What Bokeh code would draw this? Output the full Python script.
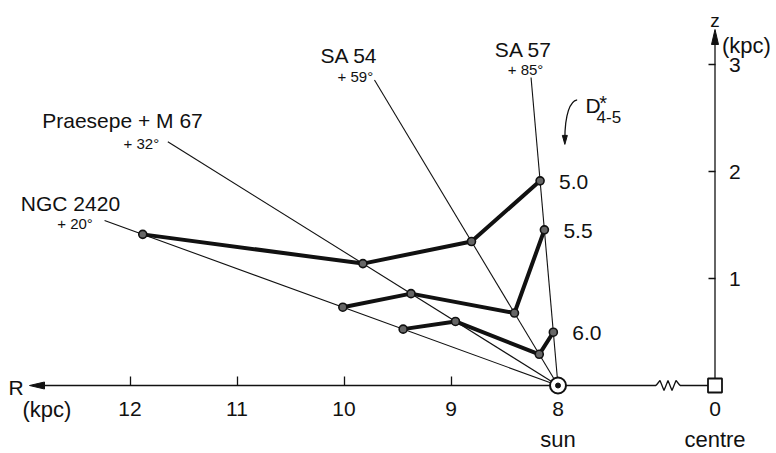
import numpy as np
from bokeh.plotting import figure
from bokeh.models import Range1d, LinearAxis, FixedTicker
from bokeh.core.properties import value
from bokeh.embed import file_html
from bokeh.resources import INLINE

# ---------------- data ----------------
fields = ["NGC 2420", "Praesepe + M 67", "SA 54", "SA 57"]
latitudes = [20, 32, 59, 85]                    # deg
lat_labels = ["+ 20°", "+ 32°", "+ 59°", "+ 85°"]
sightline_length = [4.51, 4.30, 3.33, 2.89]      # kpc, drawn extent of each sight-line

# distance (kpc) along each sight-line where D*4-5 reaches the level
levels = ["5.0", "5.5", "6.0"]
dist_50 = [4.13, 2.15, 1.57, 1.92]
dist_55 = [2.14, 1.62, 0.79, 1.46]
dist_60 = [1.54, 1.13, 0.34, 0.50]

R_ticks = [12, 11, 10, 9, 8]
z_ticks = [1, 2, 3]
R_SUN = 8.0

# label anchor positions (R, z) in kpc, left-aligned, baseline
field_label_pos = [(13.02, 1.70), (12.82, 2.48), (10.22, 3.08), (8.59, 3.14)]
lat_label_pos = [(12.68, 1.51), (12.06, 2.26), (10.06, 2.89), (8.47, 2.95)]

# ---------------- layout ----------------
PX = 107.0          # pixels per kpc (same in R and z)
W, H = 776, 453
X_SUN, Y_SUN = 557.5, 385.0
CENTRE_POS = R_SUN - 157.0 / PX     # display position of R = 0 after the axis break
INK = "#111111"
FONT = value("Liberation Sans")

def dx(pix):
    return pix / PX

p = figure(width=W, height=H,
           x_range=Range1d(R_SUN + X_SUN / PX, R_SUN - (W - X_SUN) / PX),
           y_range=Range1d(-(H - Y_SUN) / PX, Y_SUN / PX),
           output_backend="svg", toolbar_location=None, min_border=0,
           outline_line_color=None, x_axis_type=None, y_axis_type=None)
p.background_fill_color = "white"
p.border_fill_color = "white"

# sight-lines (towards the anticentre, i.e. larger R)
b = np.radians(latitudes)
L = np.array(sightline_length)
p.segment(x0=[R_SUN] * 4, y0=[0] * 4, x1=R_SUN + L * np.cos(b), y1=L * np.sin(b),
          line_color=INK, line_width=1.1)

# level curves
for d, lab in zip([dist_50, dist_55, dist_60], levels):
    d = np.array(d)
    R = R_SUN + d * np.cos(b)
    z = d * np.sin(b)
    p.line(R, z, line_color=INK, line_width=4)
    p.scatter(R, z, marker="circle", size=8, fill_color="#666666", line_color=INK, line_width=1.6)
    p.text(x=[R[-1]], y=[z[-1]], text=[lab], x_offset=19, y_offset=1,
           text_font=FONT, text_font_size="21px", text_color=INK,
           text_align="left", text_baseline="middle")

# field labels
p.text(x=[q[0] for q in field_label_pos], y=[q[1] for q in field_label_pos], text=fields,
       text_font=FONT, text_font_size="21px", text_color=INK,
       text_align="left", text_baseline="alphabetic")
p.text(x=[q[0] for q in lat_label_pos], y=[q[1] for q in lat_label_pos], text=lat_labels,
       text_font=FONT, text_font_size="15px", text_color=INK,
       text_align="left", text_baseline="alphabetic")

# D*4-5 label with curved arrow
p.text(x=[7.743], y=[2.617], text=["D"], text_font=FONT, text_font_size="21px",
       text_color=INK, text_baseline="alphabetic")
p.text(x=[7.615], y=[2.64], text=["*"], text_font=FONT, text_font_size="20px",
       text_color=INK, text_baseline="alphabetic")
p.text(x=[7.64], y=[2.507], text=["4-5"], text_font=FONT, text_font_size="17px",
       text_color=INK, text_baseline="alphabetic")
ax0, ay0 = 7.821, 2.670
ax1, ay1 = 7.936, 2.30
p.bezier(x0=[ax0], y0=[ay0], x1=[ax1], y1=[ay1],
         cx0=[ax0 + dx(7)], cy0=[ay0 - dx(1)], cx1=[ax1], cy1=[ay1 + dx(25)],
         line_color=INK, line_width=1.3)
p.patch([ax1, ax1 + dx(2.5), ax1 - dx(2.5)], [ay1 - dx(5), ay1 + dx(4), ay1 + dx(4)],
        fill_color=INK, line_color=INK, line_width=1)

# ---------------- axes ----------------
overrides = {t: str(t) for t in R_ticks}
overrides[CENTRE_POS] = "0"
xax = LinearAxis(fixed_location=0,
                 ticker=FixedTicker(ticks=R_ticks + [CENTRE_POS], minor_ticks=R_ticks[:-1]),
                 major_label_overrides=overrides,
                 axis_line_color=None, major_tick_line_color=None,
                 minor_tick_in=9, minor_tick_out=0, minor_tick_line_color=INK,
                 minor_tick_line_width=1.3,
                 major_label_standoff=10, major_label_text_font="Liberation Sans",
                 major_label_text_font_size="21px", major_label_text_color=INK)
p.add_layout(xax, "below")

zax = LinearAxis(fixed_location=CENTRE_POS, ticker=FixedTicker(ticks=z_ticks),
                 axis_line_color=None, major_tick_in=7, major_tick_out=0,
                 major_tick_line_color=INK, major_tick_line_width=1.3,
                 minor_tick_line_color=None,
                 major_label_standoff=14, major_label_text_font="Liberation Sans",
                 major_label_text_font_size="21px", major_label_text_color=INK)
p.add_layout(zax, "right")

# R axis line with arrow, break, centre square
R_TIP = R_SUN + (X_SUN - 29.0) / PX
BREAK_START = CENTRE_POS + dx(59)
BREAK_END = CENTRE_POS + dx(35)
p.line([R_TIP - dx(4), BREAK_START], [0, 0], line_color=INK, line_width=1.3)
zz_x = np.linspace(BREAK_START, BREAK_END, 7)
zz_y = np.array([0, 1, -1, 1, -1, 1, 0]) * dx(5)
p.line(zz_x, zz_y, line_color=INK, line_width=1.3)
p.line([BREAK_END, CENTRE_POS], [0, 0], line_color=INK, line_width=1.3)
p.patch([R_TIP, R_TIP - dx(15), R_TIP - dx(15)], [0, dx(3.5), -dx(3.5)],
        fill_color=INK, line_color=INK, line_width=1)

Z_TIP = (Y_SUN - 29.0) / PX
p.line([CENTRE_POS, CENTRE_POS], [0, Z_TIP - dx(4)], line_color=INK, line_width=1.3)
p.patch([CENTRE_POS, CENTRE_POS + dx(3.5), CENTRE_POS - dx(3.5)], [Z_TIP, Z_TIP - dx(15), Z_TIP - dx(15)],
        fill_color=INK, line_color=INK, line_width=1)
p.scatter([CENTRE_POS], [0], marker="square", size=14, fill_color="white",
          line_color=INK, line_width=1.8)

# sun symbol
p.scatter([R_SUN], [0], marker="circle", size=16, fill_color="white", line_color=INK, line_width=2)
p.scatter([R_SUN], [0], marker="circle", size=5, fill_color=INK, line_color=INK)

# axis titles and annotations
p.text(x=[R_TIP + dx(21)], y=[-dx(2)], text=["R"], text_font=FONT, text_font_size="21px",
       text_color=INK, text_align="left", text_baseline="alphabetic")
p.text(x=[R_TIP + dx(7)], y=[-dx(24)], text=["(kpc)"], text_font=FONT, text_font_size="22px",
       text_color=INK, text_align="left", text_baseline="alphabetic")
p.text(x=[R_SUN], y=[-dx(54)], text=["sun"], text_font=FONT, text_font_size="22px",
       text_color=INK, text_align="center", text_baseline="alphabetic")
p.text(x=[CENTRE_POS], y=[-dx(54)], text=["centre"], text_font=FONT, text_font_size="22px",
       text_color=INK, text_align="center", text_baseline="alphabetic")
p.text(x=[CENTRE_POS], y=[Z_TIP + dx(9)], text=["z"], text_font=FONT, text_font_size="19px",
       text_color=INK, text_align="center", text_baseline="alphabetic")
p.text(x=[CENTRE_POS - dx(7)], y=[Z_TIP - dx(16)], text=["(kpc)"], text_font=FONT,
       text_font_size="22px", text_color=INK, text_align="left", text_baseline="alphabetic")

open("out.html", "w").write(file_html(p, INLINE))
